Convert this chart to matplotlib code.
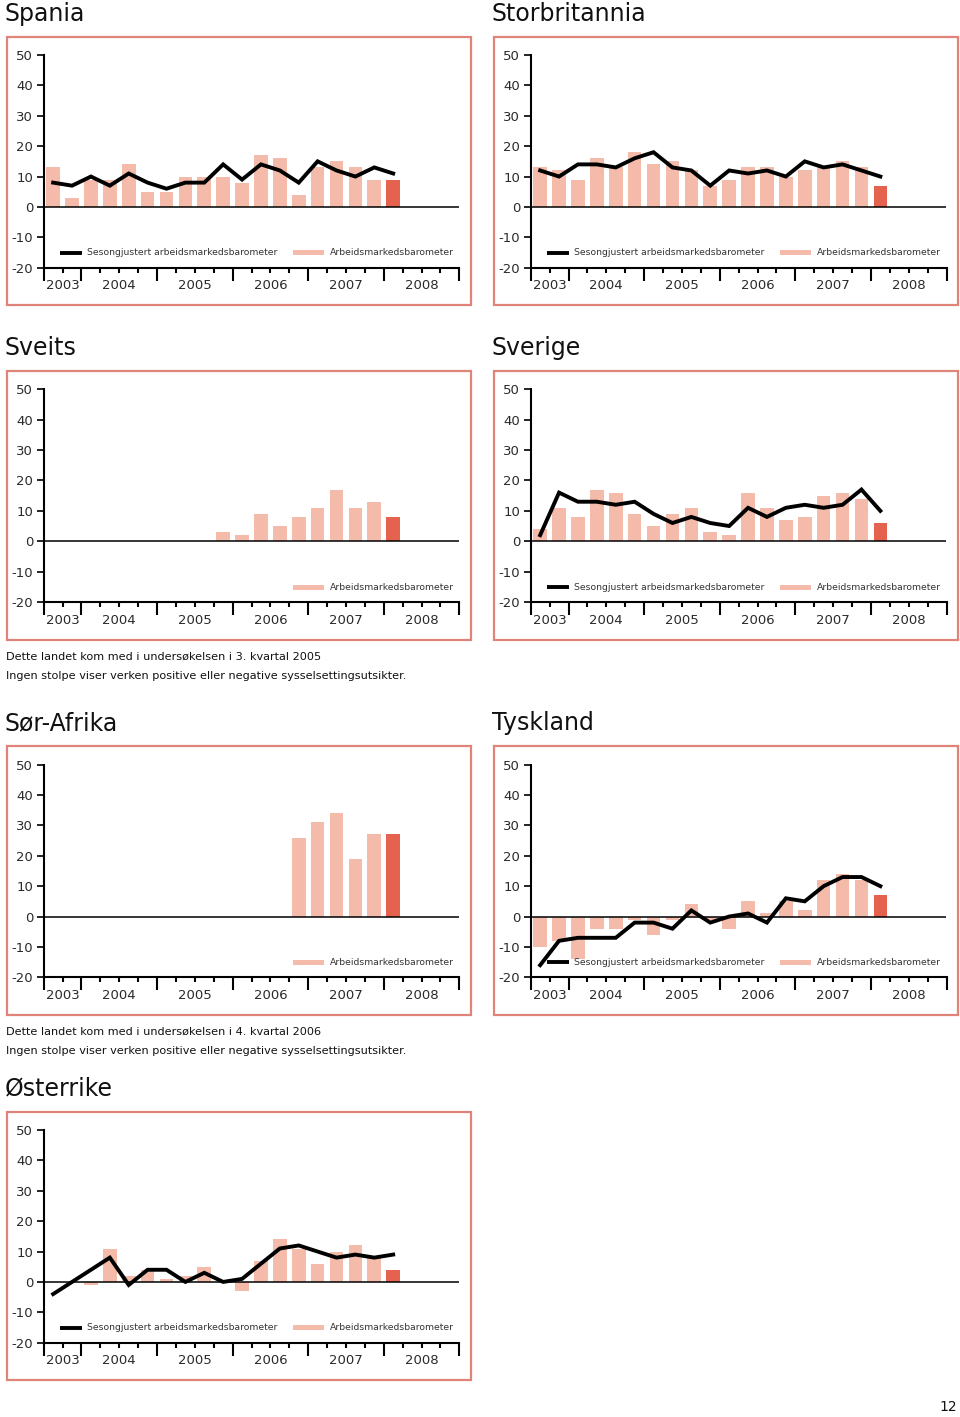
import matplotlib

matplotlib.use("Agg")
import matplotlib.pyplot as plt
import numpy as np
from matplotlib.patches import Rectangle

W, H = 960, 1417
nan = np.nan

# quarter slots on the x axis: 2003 K3 .. 2008 K1 carry data
quarters = ["2003K3", "2003K4",
            "2004K1", "2004K2", "2004K3", "2004K4",
            "2005K1", "2005K2", "2005K3", "2005K4",
            "2006K1", "2006K2", "2006K3", "2006K4",
            "2007K1", "2007K2", "2007K3", "2007K4",
            "2008K1"]
years = ["2003", "2004", "2005", "2006", "2007", "2008"]
year_slots = [2, 4, 4, 4, 4, 4]

spania_bars = [13, 3, 9, 9, 14, 5, 5, 10, 10, 10, 8, 17, 16, 4, 13, 15, 13, 9, 9]
spania_line = [8, 7, 10, 7, 11, 8, 6, 8, 8, 14, 9, 14, 12, 8, 15, 12, 10, 13, 11]

storbritannia_bars = [13, 12, 9, 16, 13, 18, 14, 15, 12, 7, 9, 13, 13, 10, 12, 13, 15, 13, 7]
storbritannia_line = [12, 10, 14, 14, 13, 16, 18, 13, 12, 7, 12, 11, 12, 10, 15, 13, 14, 12, 10]

sveits_bars = [nan] * 9 + [3, 2, 9, 5, 8, 11, 17, 11, 13, 8]

sverige_bars = [4, 11, 8, 17, 16, 9, 5, 9, 11, 3, 2, 16, 11, 7, 8, 15, 16, 14, 6]
sverige_line = [2, 16, 13, 13, 12, 13, 9, 6, 8, 6, 5, 11, 8, 11, 12, 11, 12, 17, 10]

sorafrika_bars = [nan] * 13 + [26, 31, 34, 19, 27, 27]

tyskland_bars = [-10, -8, -14, -4, -4, -1, -6, -1, 4, -1, -4, 5, 1, 5, 2, 12, 14, 12, 7]
tyskland_line = [-16, -8, -7, -7, -7, -2, -2, -4, 2, -2, 0, 1, -2, 6, 5, 10, 13, 13, 10]

osterrike_bars = [nan, nan, -1, 11, 2, 4, 1, 2, 5, 0, -3, 7, 14, 11, 6, 10, 12, 8, 4]
osterrike_line = [-4, 0, 4, 8, -1, 4, 4, 0, 3, 0, 1, 6, 11, 12, 10, 8, 9, 8, 9]

line_label = "Sesongjustert arbeidsmarkedsbarometer"
bar_label = "Arbeidsmarkedsbarometer"
note_2005 = ["Dette landet kom med i undersøkelsen i 3. kvartal 2005",
             "Ingen stolpe viser verken positive eller negative sysselsettingsutsikter."]
note_2006 = ["Dette landet kom med i undersøkelsen i 4. kvartal 2006",
             "Ingen stolpe viser verken positive eller negative sysselsettingsutsikter."]

LIGHT = "#f4bbaa"
DARK = "#e5624f"
BORDER = "#e08479"
TEXT = "#2a2a2a"

plt.rcParams["font.family"] = ["DejaVu Sans"]
plt.rcParams["axes.unicode_minus"] = False

ROW_TOPS = [36.7, 371.0, 746.3, 1111.7]
BOX_H = 268.5
AX_TOP = 18.3
AX_BOT = 231.0
BOX_X = {"left": (7.0, 470.7), "right": (494.3, 957.7)}
AX_X = {"left": (43.7, 459.3), "right": (530.7, 946.5)}
TITLE_X = {"left": 5.0, "right": 492.0}


def fig_rect(x0, y0, x1, y1):
    return [x0 / W, 1 - y1 / H, (x1 - x0) / W, (y1 - y0) / H]


def draw_panel(fig, title, row, side, bars, line=None, note=None):
    top = ROW_TOPS[row]
    bx0, bx1 = BOX_X[side]
    fig.add_artist(Rectangle((bx0 / W, 1 - (top + BOX_H) / H), (bx1 - bx0) / W, BOX_H / H,
                             transform=fig.transFigure, fill=False,
                             edgecolor=BORDER, linewidth=1.6))
    fig.text(TITLE_X[side] / W, 1 - (top - 16) / H, title, fontsize=17,
             va="baseline", ha="left", color="#111111")

    ax0, ax1 = AX_X[side]
    ax = fig.add_axes(fig_rect(ax0, top + AX_TOP, ax1, top + AX_BOT))

    edges = np.concatenate([[0], np.cumsum(year_slots)])
    n = len(quarters)
    x = np.arange(n) + 0.5
    colors = [LIGHT] * (n - 1) + [DARK]
    ax.bar(x, bars, width=0.72, color=colors, linewidth=0, zorder=2)
    ax.axhline(0, color="black", linewidth=1.1, zorder=3)
    if line is not None:
        ax.plot(x, line, color="black", linewidth=2.8, solid_joinstyle="miter",
                zorder=5)

    ax.set_xlim(edges[0], edges[-1])
    ax.set_ylim(-20, 50)
    ax.set_yticks(range(-20, 51, 10))
    ax.set_xticks(edges)
    ax.set_xticks(np.arange(edges[0], edges[-1] + 1), minor=True)
    ax.set_xticklabels([])
    ax.tick_params(axis="x", which="major", direction="out", length=9.5, width=1.5)
    ax.tick_params(axis="x", which="minor", direction="out", length=3.8, width=1.5)
    ax.tick_params(axis="y", direction="out", length=5, width=1.2, pad=2.5,
                   labelsize=9.5, labelcolor=TEXT)
    for s in ("top", "right"):
        ax.spines[s].set_visible(False)
    for s in ("left", "bottom"):
        ax.spines[s].set_linewidth(1.5)
    ax.patch.set_alpha(0)

    centers = (edges[:-1] + edges[1:]) / 2
    for cx, yr in zip(centers, years):
        ax.text(cx, -0.086, yr, transform=ax.get_xaxis_transform(), ha="center",
                va="center", fontsize=9.5, color=TEXT)

    # legend key drawn by hand to match the original layout
    ky = 0.07
    if line is not None:
        ax.plot([0.039, 0.092], [ky, ky], transform=ax.transAxes, color="black",
                linewidth=2.8, solid_capstyle="butt", zorder=4)
        ax.text(0.105, ky, line_label, transform=ax.transAxes, va="center",
                ha="left", fontsize=6.7, color="#333333")
    ax.add_patch(Rectangle((0.599, ky - 0.0118), 0.075, 0.0236, transform=ax.transAxes,
                           facecolor=LIGHT, edgecolor="none", zorder=4))
    ax.text(0.689, ky, bar_label, transform=ax.transAxes, va="center", ha="left",
            fontsize=6.7, color="#333333")

    if note is not None:
        base = top + BOX_H
        for i, txt in enumerate(note):
            fig.text(6 / W, 1 - (base + 17 + i * 19.5) / H, txt, fontsize=8.1,
                     va="center", ha="left", color="#111111")
    return ax


fig = plt.figure(figsize=(W / 100, H / 100), dpi=100)

draw_panel(fig, "Spania", 0, "left", spania_bars, spania_line)
draw_panel(fig, "Storbritannia", 0, "right", storbritannia_bars, storbritannia_line)
draw_panel(fig, "Sveits", 1, "left", sveits_bars, note=note_2005)
draw_panel(fig, "Sverige", 1, "right", sverige_bars, sverige_line)
draw_panel(fig, "Sør-Afrika", 2, "left", sorafrika_bars, note=note_2006)
draw_panel(fig, "Tyskland", 2, "right", tyskland_bars, tyskland_line)
draw_panel(fig, "Østerrike", 3, "left", osterrike_bars, osterrike_line)

fig.text(957 / W, 1 - 1407 / H, "12", fontsize=10, ha="right", va="center",
         color="#111111")

fig.savefig("out.png", dpi=100)
